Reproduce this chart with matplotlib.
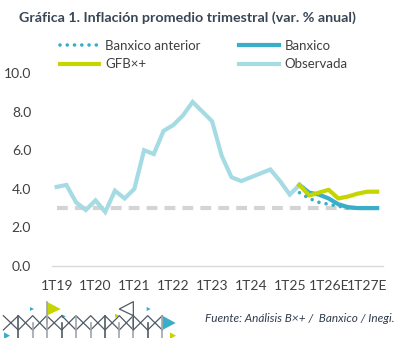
import numpy as np
import matplotlib
matplotlib.use('Agg')
import matplotlib.pyplot as plt
from matplotlib.lines import Line2D
from matplotlib.patches import Polygon

plt.rcParams['font.family'] = ['Lato', 'DejaVu Sans']

# quarterly axis, 1T19 .. 2T27
quarters = ['%dT%02d' % (q, y) for y in range(19, 28) for q in range(1, 5)][:34]
tick_labels = ['1T19', '1T20', '1T21', '1T22', '1T23', '1T24', '1T25', '1T26E', '1T27E']

observada = [4.1, 4.2, 3.3, 2.9, 3.4, 2.8, 3.9, 3.5,
             4.0, 6.0, 5.8, 7.0, 7.3, 7.8, 8.5, 8.0,
             7.5, 5.7, 4.6, 4.4, 4.6, 4.8, 5.0, 4.4,
             3.7, 4.2]
# forecasts start at 2T25
banxico = [4.2, 3.8, 3.7, 3.5, 3.2, 3.05, 3.0, 3.0, 3.0]
banxico_ant = [3.8, 3.5, 3.3, 3.2, 3.1, 3.0, 3.0, 3.0, 3.0]
gfb = [4.2, 3.65, 3.8, 3.95, 3.5, 3.6, 3.75, 3.85, 3.85]
meta = 3.0

c_obs = '#A5DBE3'
c_bx = '#38AEC8'
c_gfb = '#C5D500'
c_meta = '#D4D4D4'
c_txt = '#404040'

W, H = 419, 338
fig = plt.figure(figsize=(W / 100, H / 100), dpi=100)

def fx(px):
    return px / W

def fy(py):
    return 1 - py / H

ax = fig.add_axes([fx(52), fy(266), fx(383) - fx(52), fy(73) - fy(266)])

x = np.arange(len(quarters))
xf = x[len(observada) - 1:]

ax.plot(x, [meta] * len(x), color=c_meta, lw=3, dashes=(2.6, 1.7), zorder=1)
ax.plot(x[:len(observada)], observada, color=c_obs, lw=3, solid_joinstyle='miter', zorder=3)
ax.plot(xf, banxico, color=c_bx, lw=3, zorder=4)
ax.plot(xf, gfb, color=c_gfb, lw=3, zorder=5)
ax.plot(xf, banxico_ant, color=c_bx, lw=2.6, linestyle=(0, (0.01, 2.0)),
        dash_capstyle='round', zorder=6)

ax.set_ylim(0, 10)
ax.set_xlim(-0.48, 33.6)
ax.set_yticks(np.arange(0, 10.1, 2))
ax.set_yticklabels(['%.1f' % v for v in np.arange(0, 10.1, 2)])
ax.set_xticks([quarters.index(t.rstrip('E')) for t in tick_labels])
ax.set_xticklabels(tick_labels)
ax.tick_params(length=0, labelsize=10, colors=c_txt, pad=10)
ax.tick_params(axis='y', pad=15)
for s in ['top', 'right', 'left']:
    ax.spines[s].set_visible(False)
ax.spines['bottom'].set_color('#D9D9D9')
ax.spines['bottom'].set_linewidth(1)

handles = [Line2D([], [], color=c_bx, lw=2.6, linestyle=(0, (0.01, 2.0)), dash_capstyle='round'),
           Line2D([], [], color=c_gfb, lw=3),
           Line2D([], [], color=c_bx, lw=3),
           Line2D([], [], color=c_obs, lw=3)]
labels = ['Banxico anterior', 'GFB×+', 'Banxico', 'Observada']
fig.legend(handles, labels, ncol=2, loc='upper left', bbox_to_anchor=(fx(48), fy(28)),
           frameon=False, fontsize=9.5, labelcolor=c_txt, handlelength=3.0,
           handletextpad=0.45, columnspacing=2.9, labelspacing=0.5)

fig.text(fx(19), fy(18), 'Gráfica 1. Inflación promedio trimestral (var. % anual)',
         fontsize=10.3, fontweight='bold', color='#3A4654', va='center', ha='left')
fig.text(fx(394), fy(319), 'Fuente: Análisis B×+ /  Banxico / Inegi.',
         fontsize=8.5, style='italic', color='#2F3B4C', va='center', ha='right')

# logo: diamond lattice with flags
def px(pts):
    return [(fx(a / 3), fy(295 + b / 3)) for a, b in pts]

xs = [10, 55, 98, 140, 185, 228, 272, 315, 358, 400, 443, 487]
zig_a = [(xv, 62 if i % 2 else 105) for i, xv in enumerate(xs)]
zig_b = [(xv, 105 if i % 2 else 62) for i, xv in enumerate(xs)]
for zz in (zig_a, zig_b):
    p = px(zz)
    fig.add_artist(Line2D([a for a, b in p], [b for a, b in p], color='#505A64', lw=0.9))
for i, xv in enumerate(xs[1:]):
    col = '#505A64' if i % 3 == 0 else '#A0A6AC'
    p = px([(xv, 62 if i % 2 == 0 else 83), (xv, 140)])
    fig.add_artist(Line2D([a for a, b in p], [b for a, b in p], color=col, lw=1.2))
p = px([(400, 105), (400, 20), (358, 42), (400, 62)])
fig.add_artist(Line2D([a for a, b in p], [b for a, b in p], color='#505A64', lw=0.9))
p = px([(140, 83), (140, 20)])
fig.add_artist(Line2D([a for a, b in p], [b for a, b in p], color='#A0A6AC', lw=1.2))
flags = [([(140, 20), (182, 42), (140, 62)], c_gfb),
         ([(487, 62), (527, 84), (487, 105)], c_bx),
         ([(90, 36), (102, 42), (90, 48)], c_bx),
         ([(185, 58), (197, 64), (185, 70)], c_bx),
         ([(440, 36), (452, 42), (440, 48)], c_bx),
         ([(345, 56), (357, 62), (345, 68)], c_gfb),
         ([(510, 112), (528, 122), (510, 132)], c_gfb),
         ([(12, 112), (30, 122), (12, 132)], c_bx)]
for pts, c in flags:
    fig.add_artist(Polygon(px(pts), closed=True, color=c, lw=0))

fig.savefig('out.png', dpi=100)
